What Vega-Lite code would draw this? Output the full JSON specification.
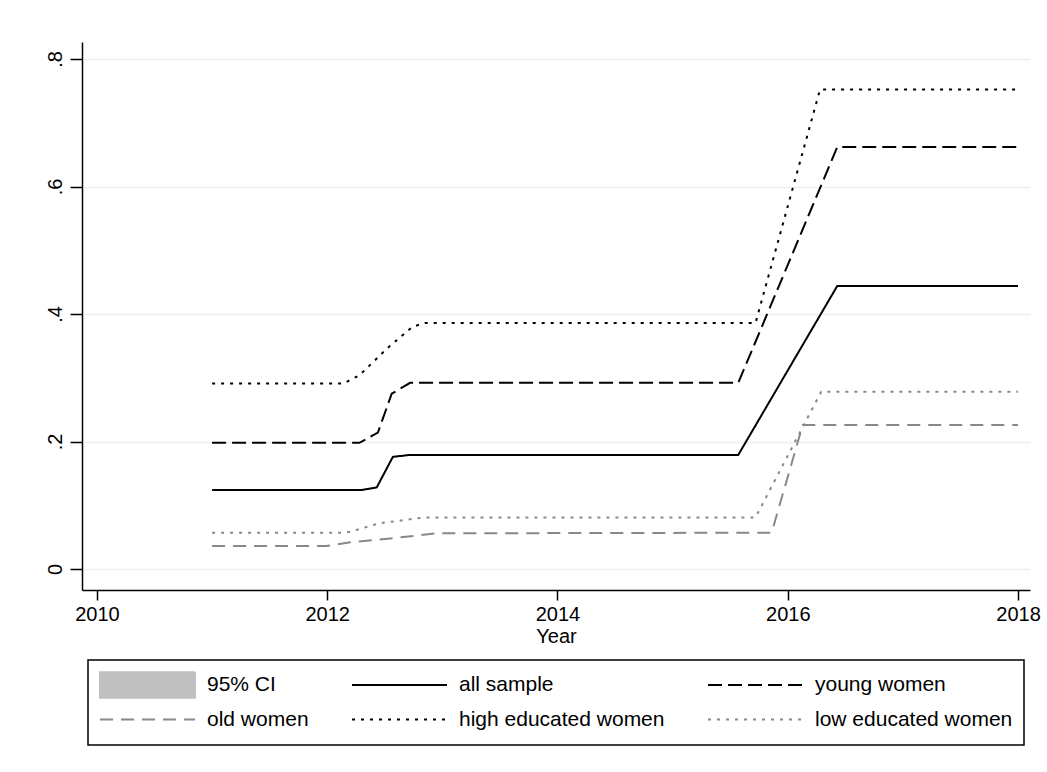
{
  "$schema": "https://vega.github.io/schema/vega-lite/v6.json",
  "width": 948,
  "height": 548,
  "autosize": {"type": "none"},
  "padding": {"left": 82, "top": 42, "right": 17, "bottom": 182},
  "background": "white",
  "config": {"view": {"stroke": null}, "font": "Liberation Sans"},
  "data": {
    "values": [
      {"series": "all sample", "year": 2011, "value": 0.124},
      {"series": "all sample", "year": 2012.3, "value": 0.124},
      {"series": "all sample", "year": 2012.43, "value": 0.128},
      {"series": "all sample", "year": 2012.57, "value": 0.176},
      {"series": "all sample", "year": 2012.72, "value": 0.179},
      {"series": "all sample", "year": 2015.57, "value": 0.179},
      {"series": "all sample", "year": 2016.43, "value": 0.444},
      {"series": "all sample", "year": 2018, "value": 0.444},
      {"series": "young women", "year": 2011, "value": 0.198},
      {"series": "young women", "year": 2012.28, "value": 0.198},
      {"series": "young women", "year": 2012.44, "value": 0.214},
      {"series": "young women", "year": 2012.56, "value": 0.275},
      {"series": "young women", "year": 2012.72, "value": 0.292},
      {"series": "young women", "year": 2015.57, "value": 0.292},
      {"series": "young women", "year": 2016.43, "value": 0.662},
      {"series": "young women", "year": 2018, "value": 0.662},
      {"series": "old women", "year": 2011, "value": 0.036},
      {"series": "old women", "year": 2011.99, "value": 0.036},
      {"series": "old women", "year": 2012.2, "value": 0.042},
      {"series": "old women", "year": 2012.6, "value": 0.049},
      {"series": "old women", "year": 2012.95, "value": 0.056},
      {"series": "old women", "year": 2015.86, "value": 0.057},
      {"series": "old women", "year": 2016.13, "value": 0.226},
      {"series": "old women", "year": 2018, "value": 0.226},
      {"series": "high educated women", "year": 2011, "value": 0.291},
      {"series": "high educated women", "year": 2012.14, "value": 0.291},
      {"series": "high educated women", "year": 2012.28, "value": 0.304},
      {"series": "high educated women", "year": 2012.52, "value": 0.346},
      {"series": "high educated women", "year": 2012.74, "value": 0.38},
      {"series": "high educated women", "year": 2012.85, "value": 0.386},
      {"series": "high educated women", "year": 2015.72, "value": 0.386},
      {"series": "high educated women", "year": 2016.28, "value": 0.752},
      {"series": "high educated women", "year": 2018, "value": 0.752},
      {"series": "low educated women", "year": 2011, "value": 0.057},
      {"series": "low educated women", "year": 2012.14, "value": 0.057},
      {"series": "low educated women", "year": 2012.2, "value": 0.0585},
      {"series": "low educated women", "year": 2012.46, "value": 0.072},
      {"series": "low educated women", "year": 2012.85, "value": 0.081},
      {"series": "low educated women", "year": 2015.72, "value": 0.081},
      {"series": "low educated women", "year": 2016.29, "value": 0.278},
      {"series": "low educated women", "year": 2018, "value": 0.278}
    ]
  },
  "mark": {"type": "line", "strokeWidth": 2},
  "encoding": {
    "x": {
      "field": "year", "type": "quantitative",
      "scale": {"domain": [2009.87, 2018.104], "nice": false, "zero": false},
      "axis": {
        "values": [2010, 2012, 2014, 2016, 2018], "format": "d", "title": "Year",
        "grid": false, "domainColor": "black", "domainWidth": 1.5,
        "tickColor": "black", "tickWidth": 1.5, "tickSize": 10,
        "labelFontSize": 20, "labelColor": "black", "labelPadding": 4, "labelFlush": false,
        "titleFontSize": 20, "titleFontWeight": "normal", "titleColor": "black", "titlePadding": 2
      }
    },
    "y": {
      "field": "value", "type": "quantitative",
      "scale": {"domain": [-0.0329, 0.8267], "nice": false, "zero": false},
      "axis": {
        "values": [0, 0.2, 0.4, 0.6, 0.8],
        "labelExpr": "datum.value == 0 ? '0' : replace(format(datum.value, '.1f'), '0.', '.')",
        "title": null, "grid": true, "gridColor": "#eaf2f3", "gridWidth": 1.5,
        "domainColor": "black", "domainWidth": 1.5,
        "tickColor": "black", "tickWidth": 1.5, "tickSize": 12,
        "labelAngle": 270, "labelFontSize": 20, "labelColor": "black", "labelPadding": 5
      }
    },
    "color": {
      "field": "series", "type": "nominal",
      "scale": {
        "domain": ["95% CI", "all sample", "young women", "old women", "high educated women", "low educated women"],
        "range": ["#c0c0c0", "black", "black", "#888888", "black", "#888888"]
      },
      "legend": {
        "title": null, "orient": "none", "legendX": 6, "legendY": 618,
        "direction": "horizontal", "columns": 3, "clipHeight": 28,
        "symbolType": "stroke", "symbolSize": 9025, "symbolStrokeWidth": 2,
        "labelFontSize": 21, "labelColor": "black", "labelOffset": 11, "labelLimit": 300,
        "columnPadding": 42, "rowPadding": 6.5, "padding": 11, "strokeColor": "black",
        "encode": {
          "legend": {"update": {"strokeWidth": {"value": 1.5}}},
          "symbols": {"update": {
            "shape": {"signal": "(datum.value === '95% CI' ? 'M-1,-0.27H1V0.27H-1Z' : 'stroke')"},
            "fill": {"signal": "(datum.value === '95% CI' ? '#c0c0c0' : 'transparent')"}
          }}
        }
      }
    },
    "strokeDash": {
      "field": "series", "type": "nominal",
      "scale": {
        "domain": ["95% CI", "all sample", "young women", "old women", "high educated women", "low educated women"],
        "range": [[1, 0], [1, 0], [14, 6], [13, 8], [3, 6], [3, 6]]
      },
      "legend": {
        "title": null, "orient": "none", "legendX": 6, "legendY": 618,
        "direction": "horizontal", "columns": 3, "clipHeight": 28,
        "symbolType": "stroke", "symbolSize": 9025, "symbolStrokeWidth": 2,
        "labelFontSize": 21, "labelColor": "black", "labelOffset": 11, "labelLimit": 300,
        "columnPadding": 42, "rowPadding": 6.5, "padding": 11, "strokeColor": "black",
        "encode": {
          "legend": {"update": {"strokeWidth": {"value": 1.5}}},
          "symbols": {"update": {
            "shape": {"signal": "(datum.value === '95% CI' ? 'M-1,-0.27H1V0.27H-1Z' : 'stroke')"},
            "fill": {"signal": "(datum.value === '95% CI' ? '#c0c0c0' : 'transparent')"}
          }}
        }
      }
    }
  }
}
